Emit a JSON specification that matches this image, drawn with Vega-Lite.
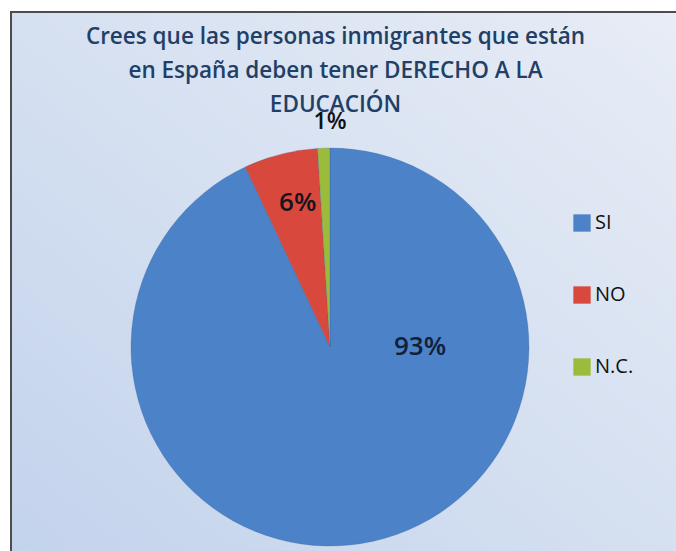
{
  "$schema": "https://vega.github.io/schema/vega-lite/v6.json",
  "autosize": {"type": "fit", "contains": "padding"},
  "width": 676,
  "height": 551,
  "padding": {"left": 11, "top": 12, "right": -10, "bottom": -6},
  "background": "#ffffff",
  "view": {
    "stroke": "#4d4d4d",
    "strokeWidth": 2,
    "fill": {
      "gradient": "linear",
      "x1": 0, "y1": 1, "x2": 1, "y2": 0,
      "stops": [
        {"offset": 0, "color": "#c3d3ec"},
        {"offset": 1, "color": "#e8edf6"}
      ]
    }
  },
  "title": {
    "text": ["Crees que las personas inmigrantes que están", "en España deben tener DERECHO A LA", "EDUCACIÓN"],
    "orient": "top",
    "anchor": "middle",
    "offset": -104,
    "dx": -13,
    "font": "Open Sans",
    "fontSize": 22.5,
    "fontWeight": 600,
    "color": "#223f66",
    "lineHeight": 34
  },
  "data": {
    "values": [
      {"respuesta": "SI", "pct": 0.93},
      {"respuesta": "NO", "pct": 0.06},
      {"respuesta": "N.C.", "pct": 0.01}
    ]
  },
  "layer": [
    {
      "mark": {"type": "arc", "outerRadius": 199, "x": {"expr": "width/2 - 18.5"}, "y": {"expr": "height/2 + 62.5"}, "stroke": "#3a5f8f", "strokeWidth": 0.5, "strokeOpacity": 0.5},
      "encoding": {
        "theta": {"field": "pct", "type": "quantitative", "stack": true},
        "order": {"field": "pct", "sort": "descending"},
        "color": {
          "field": "respuesta",
          "type": "nominal",
          "sort": ["SI", "NO", "N.C."],
          "scale": {"domain": ["SI", "NO", "N.C."], "range": ["#4b82c8", "#d9483c", "#9cbb3b"]},
          "legend": {
            "title": null,
            "orient": "none",
            "legendX": 561,
            "legendY": 201,
            "symbolType": "square",
            "symbolSize": 300,
            "symbolStrokeWidth": 0,
            "labelFontSize": 20,
            "labelFont": "Open Sans",
            "labelColor": "#111111",
            "labelOffset": 3,
            "rowPadding": 52
          }
        }
      }
    },
    {
      "transform": [{"filter": "datum.respuesta == 'SI'"}],
      "mark": {"type": "text", "x": {"expr": "width/2 - 18.5"}, "y": {"expr": "height/2 + 62.5"}, "theta": 1.5708, "radius": 90, "font": "Open Sans", "fontSize": 26, "fontWeight": 600, "color": "#14203a", "baseline": "middle", "align": "center"},
      "encoding": {"text": {"field": "pct", "type": "quantitative", "format": ".0%"}}
    },
    {
      "transform": [{"filter": "datum.respuesta == 'NO'"}],
      "mark": {"type": "text", "x": {"expr": "width/2 - 18.5"}, "y": {"expr": "height/2 + 62.5"}, "theta": -0.22, "radius": 148, "font": "Open Sans", "fontSize": 26, "fontWeight": 600, "color": "#14141e", "baseline": "middle", "align": "center"},
      "encoding": {"text": {"field": "pct", "type": "quantitative", "format": ".0%"}}
    },
    {
      "transform": [{"filter": "datum.respuesta == 'N.C.'"}],
      "mark": {"type": "text", "x": {"expr": "width/2 - 18.5"}, "y": {"expr": "height/2 + 62.5"}, "theta": 0, "radius": 225, "font": "Open Sans", "fontSize": 23, "fontWeight": 600, "color": "#111111", "baseline": "middle", "align": "center"},
      "encoding": {"text": {"field": "pct", "type": "quantitative", "format": ".0%"}}
    }
  ]
}
